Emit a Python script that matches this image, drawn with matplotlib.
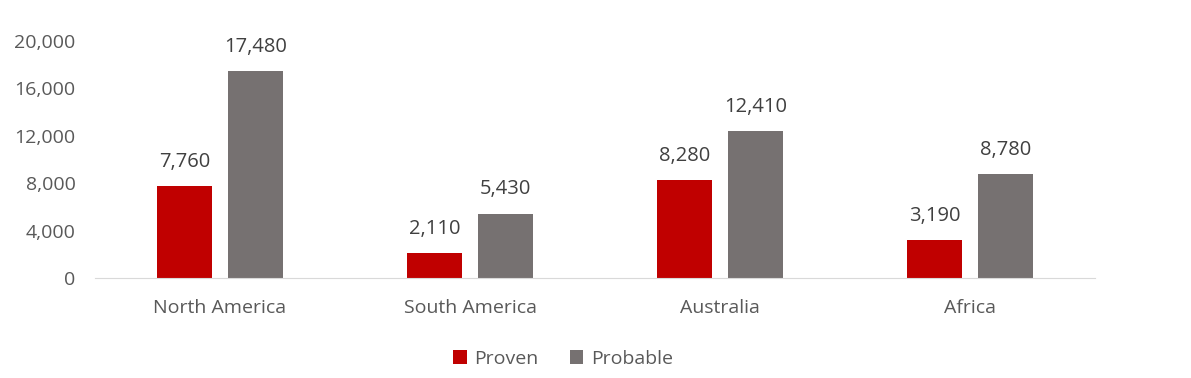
import numpy as np
import matplotlib.pyplot as plt

plt.rcParams['font.family'] = ['Open Sans', 'DejaVu Sans']

regions = ["North America", "South America", "Australia", "Africa"]
proven = [7760, 2110, 8280, 3190]
probable = [17480, 5430, 12410, 8780]

red = '#C00000'
grey = '#767171'
txt = '#595959'

fig = plt.figure(figsize=(11.91, 3.78), dpi=100)
ax = fig.add_axes([95/1191, 100/378, 1000/1191, 237/378])

x = np.arange(len(regions))
w = 0.22
off = 0.142
b1 = ax.bar(x - off, proven, w, color=red, label='Proven')
b2 = ax.bar(x + off, probable, w, color=grey, label='Probable')

for bars in (b1, b2):
    for r in bars:
        ax.text(r.get_x() + r.get_width()/2, r.get_height() + 1200,
                f"{int(r.get_height()):,}", ha='center', va='bottom',
                fontsize=14.5, color='#404040')

ax.set_xlim(-0.5, 3.5)
ax.set_ylim(0, 20000)
ax.set_yticks(range(0, 20001, 4000))
ax.set_yticklabels([f"{v:,}" for v in range(0, 20001, 4000)])
ax.set_xticks(x)
ax.set_xticklabels(regions)
ax.tick_params(axis='both', length=0, labelsize=14, colors=txt)
ax.tick_params(axis='y', pad=14)
ax.tick_params(axis='x', pad=15)
for s in ['top', 'right', 'left']:
    ax.spines[s].set_visible(False)
ax.spines['bottom'].set_color('#D9D9D9')

fig.legend(loc='center', bbox_to_anchor=(563/1191, 1 - 359/378), ncol=2,
           frameon=False, fontsize=14, handlelength=0.7, handleheight=0.7,
           columnspacing=1.6, handletextpad=0.4, labelcolor=txt)

fig.savefig('out.png', dpi=100)
